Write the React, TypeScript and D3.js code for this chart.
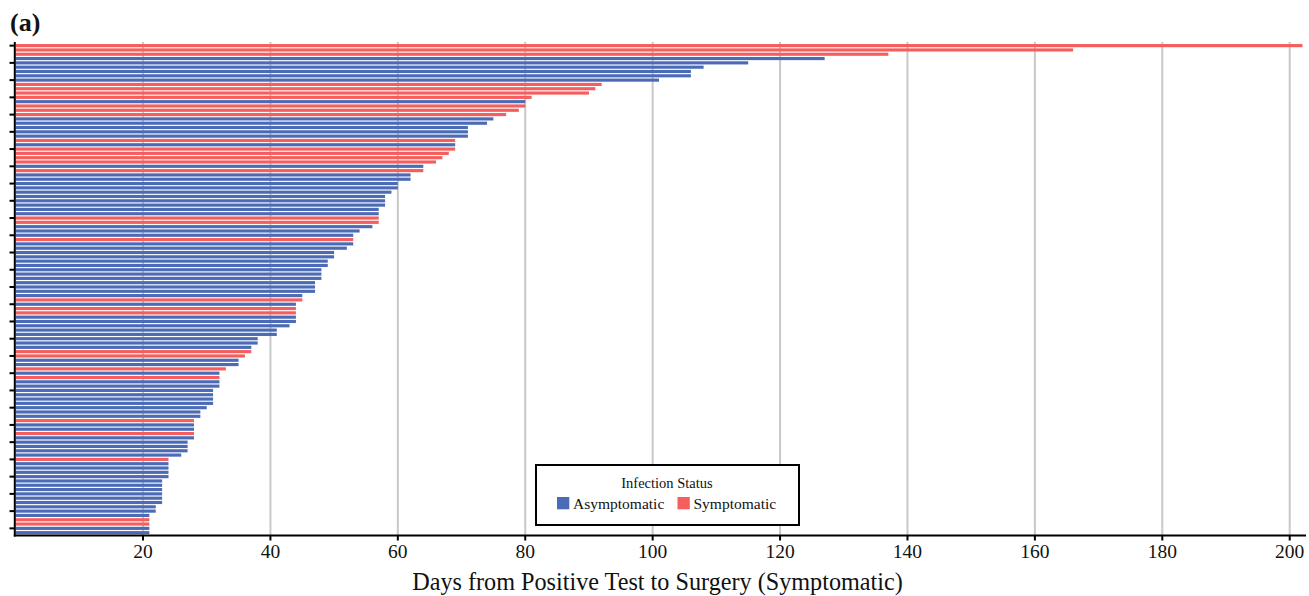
import React from "react";
import * as d3 from "d3";

const days: number[] = [
  202, 166, 137, 127, 115, 108, 106, 106, 101, 92,
  91, 90, 81, 80, 80, 79, 77, 75, 74, 71,
  71, 71, 69, 69, 69, 68, 67, 66, 64, 64,
  62, 62, 60, 60, 59, 58, 58, 58, 57, 57,
  57, 57, 56, 54, 53, 53, 53, 52, 50, 50,
  49, 49, 48, 48, 48, 47, 47, 47, 45, 45,
  44, 44, 44, 44, 44, 43, 41, 41, 38, 38,
  37, 37, 36, 35, 35, 33, 32, 32, 32, 32,
  31, 31, 31, 31, 30, 29, 29, 28, 28, 28,
  28, 28, 27, 27, 27, 26, 24, 24, 24, 24,
  24, 23, 23, 23, 23, 23, 23, 22, 22, 21,
  21, 21, 21, 21,
];

// A = Asymptomatic, S = Symptomatic
const status: string[] = (
  "SSSAAAAAAS" +
  "SSSASSSAAA" +
  "AASASSSSAS" +
  "AAAAAAAAAA" +
  "SSAAASAAAA" +
  "AAAAAAAAAS" +
  "ASSAAAAAAA" +
  "ASSAASASAA" +
  "AAAAAAASAA" +
  "SAAAAASAAA" +
  "AAAAAAAAAA" +
  "SSAA"
).split("");

const patients: string[] = days.map((_, i) => `P${i + 1}`);
const xTicks: number[] = [20, 40, 60, 80, 100, 120, 140, 160, 180, 200];
const legendItems: string[] = ["Asymptomatic", "Symptomatic"];
const colorMap: Record<string, string> = { A: "#4b6bb7", S: "#f65e5e" };

const W = 1309;
const H = 596;
const FONT = "'Liberation Serif', 'Times New Roman', serif";

export default function App() {
  const x = d3.scaleLinear().domain([0, 202.4]).range([15.6, 1305]);
  const y = d3
    .scaleBand<string>()
    .domain(patients)
    .range([43.5, 534.8])
    .paddingInner(0.27)
    .paddingOuter(0.13);
  const axisY = 535.5;
  const axisX = 14.8;

  return (
    <svg
      width={W}
      height={H}
      style={{ position: "absolute", left: 0, top: 0, background: "#fff" }}
      fontFamily={FONT}
    >
      <text x={10} y={31} fontSize={26} fontWeight="bold" fill="#111">
        (a)
      </text>
      {/* grid */}
      {xTicks.map((t) => (
        <line
          key={"g" + t}
          x1={x(t)}
          x2={x(t)}
          y1={42}
          y2={axisY}
          stroke="#c8c8c8"
          strokeWidth={2}
        />
      ))}
      {/* bars */}
      {patients.map((p, i) => (
        <rect
          key={p}
          x={x(0)}
          y={y(p)!}
          width={x(days[i]) - x(0)}
          height={y.bandwidth()}
          fill={colorMap[status[i]]}
        />
      ))}
      {/* y axis */}
      <line x1={axisX} x2={axisX} y1={42} y2={axisY + 1} stroke="#000" strokeWidth={2} />
      {patients
        .filter((_, i) => i % 4 === 0)
        .map((p) => (
          <line
            key={"yt" + p}
            x1={9.5}
            x2={axisX}
            y1={y(p)! + y.bandwidth() / 2}
            y2={y(p)! + y.bandwidth() / 2}
            stroke="#000"
            strokeWidth={2}
          />
        ))}
      {/* x axis */}
      <line x1={axisX - 1} x2={1306} y1={axisY} y2={axisY} stroke="#000" strokeWidth={2} />
      {xTicks.map((t) => (
        <g key={"xt" + t}>
          <line x1={x(t)} x2={x(t)} y1={axisY} y2={axisY + 5} stroke="#000" strokeWidth={2} />
          <text x={x(t)} y={558} fontSize={19.5} textAnchor="middle" fill="#111">
            {t}
          </text>
        </g>
      ))}
      <text x={657.5} y={590} fontSize={24.2} textAnchor="middle" fill="#111">
        Days from Positive Test to Surgery (Symptomatic)
      </text>
      {/* legend */}
      <rect x={536} y={465} width={263} height={60} fill="#fff" stroke="#000" strokeWidth={2} />
      <text x={667} y={488} fontSize={14.5} textAnchor="middle" fill="#111">
        Infection Status
      </text>
      {legendItems.map((name, i) => {
        const lx = i === 0 ? 557 : 677.5;
        return (
          <g key={name}>
            <rect x={lx} y={497} width={12.3} height={12.3} fill={colorMap[name[0]]} />
            <text x={lx + 16} y={508.5} fontSize={15.5} fill="#111">
              {name}
            </text>
          </g>
        );
      })}
    </svg>
  );
}
